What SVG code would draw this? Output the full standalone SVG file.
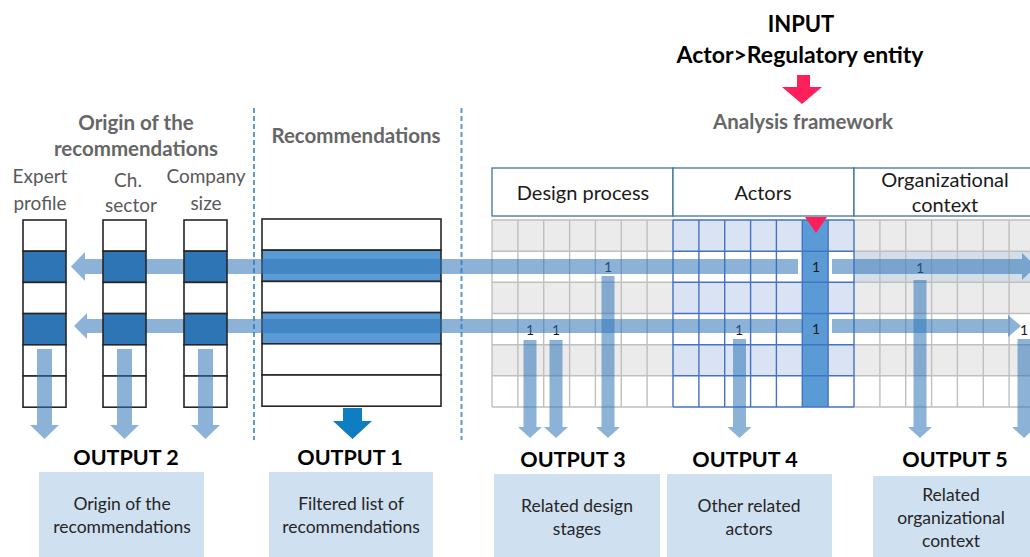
<svg xmlns="http://www.w3.org/2000/svg" width="1030" height="557" viewBox="0 0 1030 557">
<style>
text{font-family:Lato,"Liberation Sans",sans-serif}
.t1{font-size:22px;font-weight:bold;fill:#000;text-anchor:middle}
.t2{font-size:23px;font-weight:bold;fill:#000;text-anchor:middle}
.sec{font-size:20.5px;font-weight:bold;fill:#666;text-anchor:middle}
.col{font-size:19px;fill:#595959;text-anchor:middle}
.hdr{font-size:20px;fill:#1a1a1a;text-anchor:middle}
.out{font-size:21.5px;font-weight:bold;fill:#000;text-anchor:middle}
.box{font-size:17.5px;fill:#262626;text-anchor:middle}
.one{font-size:14px;fill:#1a1a1a;text-anchor:middle}
.cellw{fill:#fff;stroke:#262626;stroke-width:1.6}
.celld{fill:#2e75b6;stroke:#262626;stroke-width:1.6}
.recw{fill:#fff;stroke:#262626;stroke-width:1.6}
.recb{fill:#5b9bd5;stroke:#262626;stroke-width:1.6}
.gl{stroke:#bfbfbf;stroke-width:1.4;fill:none}
.al{stroke:#4472c4;stroke-width:1.4;fill:none}
.hb{fill:#fff;stroke:#41719c;stroke-width:1.3}
.arr{fill:#2e75b6;fill-opacity:0.55}
.ob{fill:#cfe0f1}
.dash{stroke:#5b9bd5;stroke-width:2;stroke-dasharray:5 3;fill:none}
</style>

<!-- titles -->
<g id="input">
<text class="t1" x="801" y="32">INPUT</text>
<text class="t2" x="800" y="63">Actor&gt;Regulatory entity</text>
<polygon points="797,75 810,75 810,87 822,87 802,104 782,87 797,87" fill="#ff1f5b"/>
</g>
<text class="sec" x="136" y="130">Origin of the</text>
<text class="sec" x="136" y="156">recommendations</text>
<text class="sec" x="356" y="143">Recommendations</text>
<text class="sec" x="803" y="129">Analysis framework</text>

<text class="col" x="40" y="183">Expert</text>
<text class="col" x="40" y="210">profile</text>
<text class="col" x="128" y="187">Ch.</text>
<text class="col" x="131" y="212">sector</text>
<text class="col" x="206" y="183">Company</text>
<text class="col" x="206" y="210">size</text>

<!-- dashed separators -->
<line class="dash" x1="254" y1="108" x2="254" y2="440"/>
<line class="dash" x1="461.5" y1="108" x2="461.5" y2="440"/>

<!-- recommendations table -->
<g id="recommendations">
<rect class="recw" x="262" y="219" width="179" height="31.2"/>
<rect class="recb" x="262" y="250.2" width="179" height="31.2"/>
<rect class="recw" x="262" y="281.4" width="179" height="31.2"/>
<rect class="recb" x="262" y="312.6" width="179" height="31.2"/>
<rect class="recw" x="262" y="343.8" width="179" height="31.2"/>
<rect class="recw" x="262" y="375" width="179" height="31.2"/>
</g>

<!-- analysis grid -->
<g id="design-grid">
<rect x="492" y="220" width="181" height="31.2" fill="#ebebeb"/>
<rect x="492" y="282.3" width="181" height="31.2" fill="#ebebeb"/>
<rect x="492" y="344.7" width="181" height="31.2" fill="#ebebeb"/>
<path class="gl" d="M492,220H673M492,251.2H673M492,282.3H673M492,313.5H673M492,344.7H673M492,375.8H673M492,407H673
M492,220V407M517.9,220V407M543.7,220V407M569.6,220V407M595.4,220V407M621.3,220V407M647.1,220V407"/>
</g>
<g id="org-grid">
<rect x="854" y="220" width="190" height="31.2" fill="#ebebeb"/>
<rect x="854" y="251.2" width="190" height="31.1" fill="#d3dee8"/>
<rect x="854" y="282.3" width="190" height="31.2" fill="#ebebeb"/>
<rect x="854" y="344.7" width="190" height="31.2" fill="#ebebeb"/>
<path class="gl" d="M854,220H1040M854,251.2H1040M854,282.3H1040M854,313.5H1040M854,344.7H1040M854,375.8H1040M854,407H1040
M879.9,220V407M905.7,220V407M931.6,220V407M957.4,220V407M983.3,220V407M1009.1,220V407"/>
</g>
<g id="actors-grid">
<rect x="673" y="220" width="181" height="31.2" fill="#dae3f3"/>
<rect x="673" y="282.3" width="181" height="31.2" fill="#dae3f3"/>
<rect x="673" y="344.7" width="181" height="31.2" fill="#dae3f3"/>
<rect x="802.3" y="220" width="25.8" height="187" fill="#5b9bd5"/>
<path class="al" d="M673,220H854M673,251.2H854M673,282.3H854M673,313.5H854M673,344.7H854M673,375.8H854M673,407H854
M673,220V407M698.9,220V407M724.7,220V407M750.6,220V407M776.4,220V407M802.3,220V407M828.1,220V407M854,220V407"/>
</g>

<!-- headers -->
<g id="hdr-design"><rect class="hb" x="492" y="168" width="181" height="48"/><text class="hdr" x="583" y="200">Design process</text></g>
<g id="hdr-actors"><rect class="hb" x="673" y="168" width="181" height="48"/><text class="hdr" x="763" y="200">Actors</text></g>
<g id="hdr-org"><rect class="hb" x="854" y="168" width="186" height="48"/><text class="hdr" x="945" y="187">Organizational</text><text class="hdr" x="945" y="212">context</text></g>
<polygon points="805,217 827,217 816,233" fill="#ff1f5b"/>

<!-- ones -->
<g id="ones">
<text class="one" x="608" y="272">1</text>
<text class="one" x="530" y="335">1</text>
<text class="one" x="556" y="335">1</text>
<text class="one" x="739" y="335">1</text>
<text class="one" x="816" y="272">1</text>
<text class="one" x="816" y="334">1</text>
<text class="one" x="920" y="273">1</text>
<text class="one" x="1024" y="335">1</text>
</g>

<!-- connectors -->
<g id="connectors">
<polygon class="arr" points="798,259 85,259 85,252 71,266.5 85,281 85,274 798,274"/>
<polygon class="arr" points="803,319 87,319 87,313 74,326 87,339 87,333 803,333"/>
<polygon class="arr" points="832,259 1022,259 1022,253 1036,266.5 1022,280 1022,274 832,274"/>
<polygon class="arr" points="832,319 1008,319 1008,315 1021,326 1008,337 1008,333 832,333"/>
</g>

<!-- origin columns -->
<g id="col-expert">
<rect class="cellw" x="23" y="220" width="43" height="31.2"/>
<rect class="celld" x="23" y="251.2" width="43" height="31.2"/>
<rect class="cellw" x="23" y="282.4" width="43" height="31.2"/>
<rect class="celld" x="23" y="313.6" width="43" height="31.2"/>
<rect class="cellw" x="23" y="344.8" width="43" height="31.2"/>
<rect class="cellw" x="23" y="376" width="43" height="31.2"/>
</g>
<g id="col-sector">
<rect class="cellw" x="103" y="220" width="43" height="31.2"/>
<rect class="celld" x="103" y="251.2" width="43" height="31.2"/>
<rect class="cellw" x="103" y="282.4" width="43" height="31.2"/>
<rect class="celld" x="103" y="313.6" width="43" height="31.2"/>
<rect class="cellw" x="103" y="344.8" width="43" height="31.2"/>
<rect class="cellw" x="103" y="376" width="43" height="31.2"/>
</g>
<g id="col-size">
<rect class="cellw" x="184" y="220" width="43" height="31.2"/>
<rect class="celld" x="184" y="251.2" width="43" height="31.2"/>
<rect class="cellw" x="184" y="282.4" width="43" height="31.2"/>
<rect class="celld" x="184" y="313.6" width="43" height="31.2"/>
<rect class="cellw" x="184" y="344.8" width="43" height="31.2"/>
<rect class="cellw" x="184" y="376" width="43" height="31.2"/>
</g>

<g id="connectors-down">
<polygon class="arr" points="37,349 52,349 52,425 59,425 44.5,439 30,425 37,425"/>
<polygon class="arr" points="117,349 132,349 132,425 139,425 124.5,439 110,425 117,425"/>
<polygon class="arr" points="198,349 213,349 213,425 220,425 205.5,439 191,425 198,425"/>
<polygon class="arr" points="523.5,340 536.5,340 536.5,427 542,427 530,438 518,427 523.5,427"/>
<polygon class="arr" points="549.5,340 562.5,340 562.5,427 568,427 556,438 544,427 549.5,427"/>
<polygon class="arr" points="601.5,276 614.5,276 614.5,427 620,427 608,438 596,427 601.5,427"/>
<polygon class="arr" points="733,339 746,339 746,427 751.5,427 739.5,438 727.5,427 733,427"/>
<polygon class="arr" points="913.5,280 926.5,280 926.5,427 932,427 920,438 908,427 913.5,427"/>
<polygon class="arr" points="1017.5,339 1030.5,339 1030.5,427 1036,427 1024,438 1012,427 1017.5,427"/>
<polygon points="343,408 362,408 362,421 372,421 352.5,439 333,421 343,421" fill="#0e7dc2"/>
</g>

<!-- outputs -->
<g id="output2"><text class="out" x="126" y="465">OUTPUT 2</text><rect class="ob" x="39" y="472" width="165" height="85"/><text class="box" x="122" y="510">Origin of the</text><text class="box" x="122" y="533">recommendations</text></g>
<g id="output1"><text class="out" x="350" y="465">OUTPUT 1</text><rect class="ob" x="269" y="472" width="164" height="85"/><text class="box" x="351" y="510">Filtered list of</text><text class="box" x="351" y="533">recommendations</text></g>
<g id="output3"><text class="out" x="573" y="467">OUTPUT 3</text><rect class="ob" x="494" y="474" width="166" height="83"/><text class="box" x="577" y="512">Related design</text><text class="box" x="577" y="535">stages</text></g>
<g id="output4"><text class="out" x="745" y="467">OUTPUT 4</text><rect class="ob" x="667" y="474" width="165" height="83"/><text class="box" x="749" y="512">Other related</text><text class="box" x="749" y="535">actors</text></g>
<g id="output5"><text class="out" x="955" y="467">OUTPUT 5</text><rect class="ob" x="873" y="476" width="157" height="81"/><text class="box" x="951" y="501">Related</text><text class="box" x="951" y="524">organizational</text><text class="box" x="951" y="547">context</text></g>
</svg>
